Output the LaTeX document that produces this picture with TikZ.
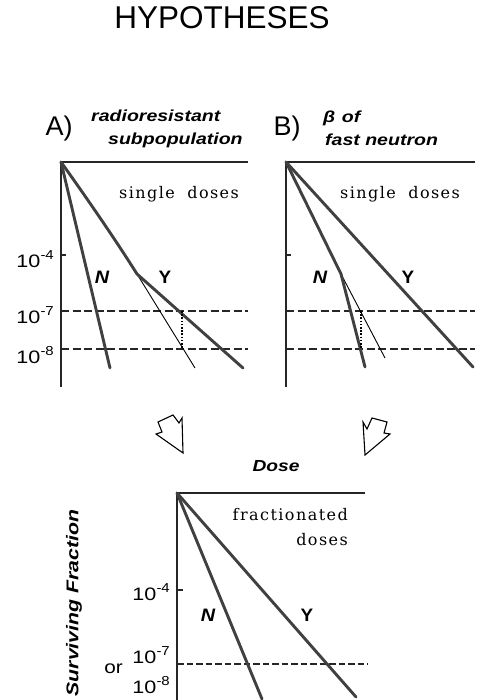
\documentclass[tikz,border=0pt]{standalone}
\usepackage{fontspec}
\newfontfamily\hv{Liberation Sans}
\newfontfamily\spc{DejaVu Serif}[LetterSpace=9]
\newcommand\sxx[2]{\scalebox{#1}[1]{#2}}
\newcommand\pw[1]{{\fontsize{18}{18}\selectfont\sxx{1.2}{10}\raisebox{0.42em}{\fontsize{13}{13}\selectfont\sxx{1.15}{-#1}}}}
\begin{document}
\begin{tikzpicture}[x=1pt,y=-1pt,
  axisline/.style={line width=1.2pt, black!85},
  crv/.style={line width=2.9pt, black!75, line join=round, line cap=round},
  crvthin/.style={line width=0.9pt, black},
  dashln/.style={line width=2.3pt, black!85, dash pattern=on 8pt off 3.5pt},
  dashthin/.style={line width=1.6pt, black!85, dash pattern=on 6.5pt off 3pt},
  dotln/.style={line width=1.7pt, black, dash pattern=on 1.6pt off 1.6pt},
  lbl/.style={font=\hv\bfseries\itshape\fontsize{18}{18}\selectfont, inner sep=0pt},
  ylbl/.style={font=\hv\bfseries\fontsize{18}{18}\selectfont, inner sep=0pt},
  hdr/.style={font=\hv\bfseries\itshape\fontsize{16}{16}\selectfont, inner sep=0pt, anchor=base west},
  tlbl/.style={font=\hv, inner sep=0pt, anchor=base east},
  sdose/.style={font=\spc\fontsize{16}{16}\selectfont, inner sep=0pt, anchor=base},
  arrowshape/.style={line width=1.1pt, black, fill=white, line join=miter}
]
\useasboundingbox (0,0) rectangle (481,700);

% title
\node[font=\hv\fontsize{31.5}{31.5}\selectfont, inner sep=0pt] (title) at (222,18) {HYPOTHESES};

% ---------- Panel A ----------
\node[font=\hv\fontsize{27}{27}\selectfont, inner sep=0pt] (labA) at (59,129) {A)};
\node[hdr] (hA1) at (91,122) {\sxx{1.22}{radioresistant}};
\node[hdr] (hA2) at (108,145) {\sxx{1.22}{subpopulation}};

\coordinate (OA) at (61,162);
\coordinate (TRA) at (248,162);
\coordinate (BA) at (61,387);
\draw[axisline] (TRA) -- (OA) -- (BA);
\draw[axisline] (61,255) -- (66,255);

\node[sdose] (sdA) at (179,199) {single\hspace{6pt} doses};

\node[tlbl] (a4) at (54,267) {\pw{4}};
\node[tlbl] (a7) at (54,323) {\pw{7}};
\node[tlbl] (a8) at (54,363) {\pw{8}};

\draw[dashln] (61,311) -- (248,311);
\draw[dashln] (61,349) -- (248,349);

\coordinate (NA1) at (110,368);
\draw[crv] (OA) -- (NA1);
\coordinate (GA0) at (137,274);
\coordinate (GA1) at (243,368);
\coordinate (GA2) at (195,368);
\draw[crvthin] (GA0) -- (GA2);
\draw[crv] (OA) .. controls (86,197) and (115,239) .. (GA0) -- (GA1);
\draw[dotln] (182,311) -- (182,349);

\node[lbl] (NlA) at (102,277) {\sxx{1.1}{N}};
\node[ylbl] (GlA) at (165,277) {\sxx{1.05}{Y}};

% ---------- Panel B ----------
\node[font=\hv\fontsize{27}{27}\selectfont, inner sep=0pt] (labB) at (287,129) {B)};
\node[hdr] (hB1) at (323,123) {\sxx{1.22}{β\,\,of}};
\node[hdr] (hB2) at (325,146) {\sxx{1.22}{fast neutron}};

\coordinate (OB) at (286,162);
\coordinate (TRB) at (475,162);
\coordinate (BB) at (286,387);
\draw[axisline] (TRB) -- (OB) -- (BB);
\draw[axisline] (286,255) -- (291,255);

\node[sdose] (sdB) at (400,199) {single\hspace{6pt} doses};

\draw[dashln] (286,311) -- (475,311);
\draw[dashln] (286,349) -- (475,349);

\coordinate (GB1) at (473,367);
\draw[crv] (OB) -- (GB1);
\coordinate (NB0) at (341,274);
\coordinate (NB1) at (365,367);
\coordinate (NB2) at (385,358);
\draw[crvthin] (NB0) -- (NB2);
\draw[crv] (OB) -- (NB0) -- (NB1);
\draw[dotln] (361,311) -- (361,349);

\node[lbl] (NlB) at (320,277) {\sxx{1.1}{N}};
\node[ylbl] (GlB) at (408,277) {\sxx{1.05}{Y}};

% ---------- arrows ----------
\draw[arrowshape] (182,418) -- (179,423) -- (173,415) -- (158,422) -- (162,432) -- (156,434) -- (183,453) -- cycle;
\draw[arrowshape] (363,422) -- (367,429) -- (372,418) -- (387,422) -- (384,433) -- (390,434) -- (365,455) -- cycle;

\node[lbl, font=\hv\bfseries\itshape\fontsize{16}{16}\selectfont] (dose) at (276,466) {\sxx{1.2}{Dose}};

% ---------- Bottom panel ----------
\coordinate (OC) at (177,493);
\coordinate (TRC) at (365,493);
\coordinate (BC) at (177,702);
\draw[axisline] (TRC) -- (OC) -- (BC);
\draw[axisline] (177,590) -- (183,590);

\node[sdose, anchor=base east] (fr1) at (348,520) {fractionated};
\node[sdose, anchor=base east] (fr2) at (348,545) {doses};

\node[tlbl] (c4) at (170,600) {\pw{4}};
\node[tlbl] (c7) at (170,663) {\pw{7}};
\node[tlbl, font=\hv\fontsize{18}{18}\selectfont] (cor) at (123,673) {\sxx{1.15}{or}};
\node[tlbl] (c8) at (170,693) {\pw{8}};

\draw[dashthin] (177,664) -- (368,664);

\coordinate (NC1) at (262,699);
\coordinate (GC1) at (356,697);
\draw[crv] (OC) -- (NC1);
\draw[crv] (OC) -- (GC1);

\node[lbl] (NlC) at (208,615) {\sxx{1.1}{N}};
\node[ylbl] (GlC) at (307,615) {\sxx{1.05}{Y}};

\node[hdr, anchor=center, rotate=90, font=\hv\bfseries\itshape\fontsize{17}{17}\selectfont] (sf) at (74,603) {\sxx{1.25}{Surviving Fraction}};
\end{tikzpicture}
\end{document}
